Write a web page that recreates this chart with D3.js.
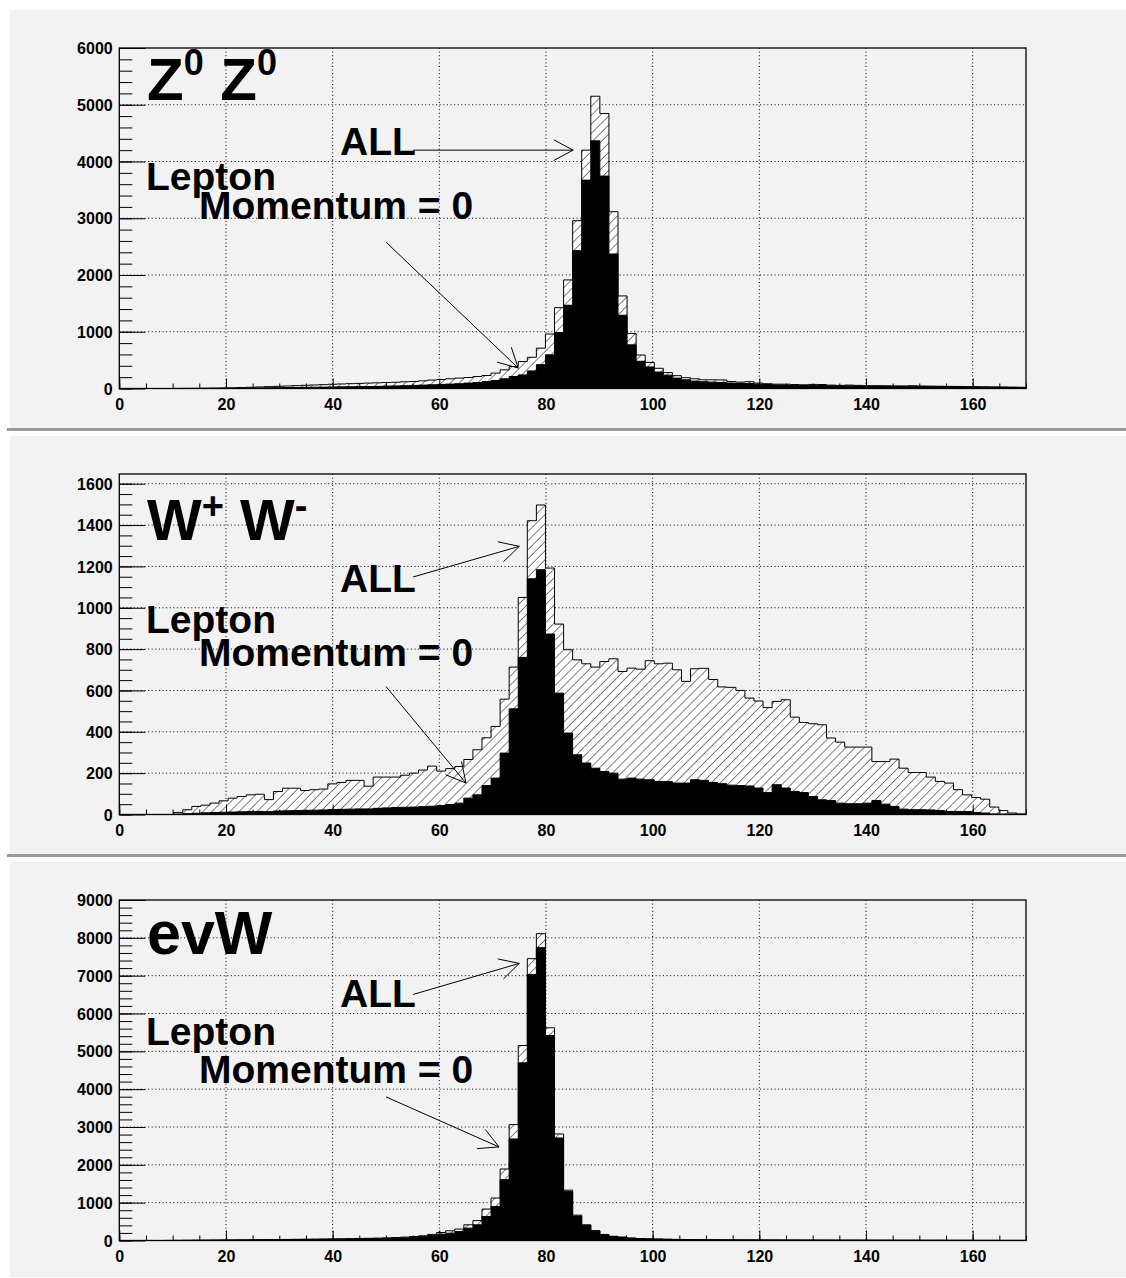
<!DOCTYPE html>
<html>
<head>
<meta charset="utf-8">
<script src="https://cdn.jsdelivr.net/npm/d3@7"></script>
<style>
body { margin: 0; background: #fff; }
text { font-family: "Liberation Sans", Arial, Helvetica, sans-serif; font-weight: bold; fill: #000; }
</style>
</head>
<body>
<script>
var width = 1126, height = 1278;
var binWidth = 1.7, xMax = 170;

var xTicks = [0, 20, 40, 60, 80, 100, 120, 140, 160];

// Z0 Z0 : all events / lepton momentum = 0
var zzAll = [0, 0, 0, 0, 0, 0, 1, 2, 3, 4,
  6, 8, 12, 16, 22, 27, 33, 38, 44, 50,
  56, 62, 68, 75, 80, 85, 90, 95, 100, 105,
  110, 118, 123, 135, 148, 158, 171, 183, 194, 211,
  229, 271, 329, 387, 475, 550, 711, 960, 1425, 1913,
  2957, 4200, 5150, 4846, 3115, 1631, 968, 590, 460, 356,
  280, 226, 190, 171, 153, 153, 150, 123, 112, 120,
  95, 84, 76, 76, 70, 65, 72, 70, 60, 55,
  60, 55, 50, 50, 48, 46, 45, 48, 44, 42,
  40, 38, 36, 34, 32, 30, 28, 26, 24, 22];
var zzLepton = [0, 0, 0, 0, 0, 0, 0, 1, 1, 2,
  3, 4, 5, 7, 9, 11, 13, 15, 17, 19,
  21, 23, 25, 27, 29, 31, 33, 35, 38, 42,
  46, 50, 55, 60, 66, 72, 78, 84, 95, 106,
  123, 141, 171, 211, 240, 310, 420, 593, 985, 1467,
  2429, 3672, 4364, 3743, 2370, 1291, 769, 480, 380, 290,
  235, 183, 153, 130, 118, 112, 106, 95, 89, 89,
  76, 70, 62, 60, 57, 54, 55, 52, 48, 45,
  46, 43, 40, 39, 38, 37, 36, 37, 35, 33,
  32, 30, 29, 27, 26, 24, 22, 21, 19, 17];
var zzYTicks = [0, 1000, 2000, 3000, 4000, 5000, 6000];

// W+ W-
var wwAll = [0, 0, 0, 0, 0, 0, 10, 23, 39, 45,
  55, 66, 79, 87, 95, 98, 72, 111, 127, 127,
  116, 120, 123, 148, 155, 165, 165, 137, 181, 181,
  181, 190, 200, 215, 234, 210, 222, 232, 266, 313,
  371, 426, 558, 713, 1050, 1421, 1497, 1192, 921, 797,
  748, 729, 713, 740, 753, 692, 708, 703, 744, 729,
  732, 700, 644, 705, 707, 653, 617, 615, 600, 563,
  549, 517, 547, 555, 471, 445, 439, 434, 370, 350,
  326, 326, 326, 256, 256, 268, 224, 203, 203, 181,
  160, 152, 120, 95, 82, 74, 36, 19, 7, 3];
var wwLepton = [0, 0, 0, 0, 0, 0, 2, 4, 6, 8,
  10, 11, 12, 13, 14, 15, 14, 17, 18, 19,
  20, 21, 22, 24, 25, 26, 27, 27, 30, 32,
  34, 35, 36, 38, 40, 43, 48, 55, 79, 95,
  140, 176, 297, 511, 760, 1140, 1184, 873, 587, 394,
  289, 249, 224, 208, 200, 171, 176, 171, 168, 160,
  160, 152, 152, 168, 165, 155, 149, 142, 140, 138,
  128, 106, 144, 128, 111, 106, 87, 71, 68, 55,
  52, 52, 55, 68, 50, 39, 26, 23, 23, 22,
  19, 15, 15, 14, 10, 7, 3, 2, 1, 0];
var wwYTicks = [0, 200, 400, 600, 800, 1000, 1200, 1400, 1600];

// e nu W
var evAll = [0, 0, 0, 0, 0, 2, 3, 5, 7, 9,
  11, 13, 15, 17, 19, 21, 23, 25, 28, 31,
  34, 37, 40, 43, 46, 50, 54, 58, 63, 70,
  78, 90, 105, 125, 160, 212, 257, 301, 415, 525,
  831, 1122, 1890, 3063, 5154, 7449, 8110, 5622, 2816, 1330,
  670, 415, 262, 160, 112, 90, 65, 52, 44, 38,
  33, 29, 26, 23, 21, 19, 18, 17, 16, 15,
  14, 13, 13, 12, 12, 11, 11, 10, 10, 9,
  9, 9, 8, 8, 8, 7, 7, 7, 6, 6,
  6, 5, 5, 5, 4, 4, 4, 3, 3, 3];
var evLepton = [0, 0, 0, 0, 0, 1, 2, 4, 5, 7,
  8, 10, 11, 13, 14, 16, 17, 19, 21, 23,
  26, 28, 30, 32, 35, 38, 41, 44, 48, 53,
  60, 70, 82, 100, 128, 168, 194, 238, 327, 415,
  635, 900, 1607, 2684, 4695, 7033, 7740, 5418, 2710, 1297,
  645, 400, 247, 150, 104, 84, 60, 48, 40, 35,
  30, 27, 24, 21, 19, 18, 17, 16, 15, 14,
  13, 12, 12, 11, 11, 10, 10, 9, 9, 8,
  8, 8, 7, 7, 7, 6, 6, 6, 5, 5,
  5, 4, 4, 4, 3, 3, 3, 2, 2, 2];
var evYTicks = [0, 1000, 2000, 3000, 4000, 5000, 6000, 7000, 8000, 9000];

var panels = [
  { all: zzAll, lep: zzLepton, yTicks: zzYTicks, yMax: 6000, minor: 200, padTop: 10,
    title: ['Z', '0', ' Z', '0'], titleSize: 60, supSize: 36, supRaise: 25,
    titleY: 90, allY: 145, lepY: 180, momY: 209,
    allArrow: [[55.1, 4200], [85.1, 4200]], lepArrow: [[50, 2580], [74.8, 360]] },
  { all: wwAll, lep: wwLepton, yTicks: wwYTicks, yMax: 1647, minor: 50, padTop: 436,
    title: ['W', '+', ' W', '-'], titleSize: 58, supSize: 38, supRaise: 21,
    titleY: 104, allY: 155.7, lepY: 197.3, momY: 230,
    allArrow: [[55.1, 1149], [75.0, 1297]], lepArrow: [[50, 619], [65.0, 152]] },
  { all: evAll, lep: evLepton, yTicks: evYTicks, yMax: 9000, minor: 200, padTop: 862,
    title: ['evW'], titleSize: 61,
    titleY: 92, allY: 144.7, lepY: 183, momY: 220.7,
    allArrow: [[55.1, 6504], [75.0, 7324]], lepArrow: [[50, 3796], [71.2, 2472]] }
];

var svg = d3.select('body').append('svg')
  .attr('width', width)
  .attr('height', height);

svg.append('rect').attr('width', width).attr('height', height).attr('fill', '#fff');

var defs = svg.append('defs');
defs.append('pattern')
  .attr('id', 'hatch')
  .attr('patternUnits', 'userSpaceOnUse')
  .attr('width', 6.4).attr('height', 6.4)
  .attr('patternTransform', 'rotate(45)')
  .append('line')
  .attr('x1', 0).attr('y1', 0).attr('x2', 0).attr('y2', 6.4)
  .attr('stroke', '#000').attr('stroke-width', 1);

var frameLeft = 119.3, frameRight = 1026, frameH = 340.5;

var drawArrow = function (g, p0, p1) {
  var ang = Math.atan2(p1[1] - p0[1], p1[0] - p0[0]);
  var len = 22, half = 28 * Math.PI / 180;
  g.append('line')
    .attr('x1', p0[0]).attr('y1', p0[1]).attr('x2', p1[0]).attr('y2', p1[1])
    .attr('stroke', '#000').attr('stroke-width', 1);
  [-half, half].forEach(function (a) {
    g.append('line')
      .attr('x1', p1[0]).attr('y1', p1[1])
      .attr('x2', p1[0] - len * Math.cos(ang + a))
      .attr('y2', p1[1] - len * Math.sin(ang + a))
      .attr('stroke', '#000').attr('stroke-width', 1);
  });
}

panels.forEach(function (p, k) {
  var padH = k === 2 ? 415 : 418;
  var frameTop = p.padTop + 38;

  //pad background and bevel
  svg.append('rect')
    .attr('x', 10).attr('y', p.padTop)
    .attr('width', width - 10).attr('height', padH)
    .attr('fill', '#f2f2f2');
  if (k < 2) {
    svg.append('rect')
      .attr('x', 7).attr('y', p.padTop + padH)
      .attr('width', width - 7).attr('height', 3)
      .attr('fill', '#9a9a9a');
  }

  var g = svg.append('g');

  var xScale = d3.scaleLinear().domain([0, xMax]).range([frameLeft, frameRight]);
  var yScale = d3.scaleLinear().domain([0, p.yMax]).range([frameTop + frameH, frameTop]);

  //grid
  g.selectAll('.vgrid')
    .data(xTicks.filter(function (d) { return d > 0; }))
    .enter().append('line')
    .attr('x1', function (d) { return xScale(d); })
    .attr('x2', function (d) { return xScale(d); })
    .attr('y1', frameTop).attr('y2', frameTop + frameH)
    .attr('stroke', '#000').attr('stroke-width', 1)
    .attr('stroke-dasharray', '1,2.6');
  g.selectAll('.hgrid')
    .data(p.yTicks.filter(function (d) { return d > 0 && d < p.yMax; }))
    .enter().append('line')
    .attr('x1', frameLeft).attr('x2', frameRight)
    .attr('y1', function (d) { return yScale(d); })
    .attr('y2', function (d) { return yScale(d); })
    .attr('stroke', '#000').attr('stroke-width', 1)
    .attr('stroke-dasharray', '1,2.6');

  //histograms
  var toSteps = function (arr) {
    var pts = arr.map(function (v, i) { return { x: i * binWidth, v: v }; });
    pts.push({ x: xMax, v: arr[arr.length - 1] });
    return pts;
  };
  var area = d3.area()
    .curve(d3.curveStepAfter)
    .x(function (d) { return xScale(d.x); })
    .y0(yScale(0))
    .y1(function (d) { return yScale(d.v); });

  g.append('path').datum(toSteps(p.all)).attr('d', area).attr('fill', '#fff');
  g.append('path').datum(toSteps(p.all)).attr('d', area)
    .attr('fill', 'url(#hatch)')
    .attr('stroke', '#000').attr('stroke-width', 1);
  g.append('path').datum(toSteps(p.lep)).attr('d', area)
    .attr('fill', '#000')
    .attr('stroke', '#000').attr('stroke-width', 1);

  //frame
  g.append('rect')
    .attr('x', frameLeft).attr('y', frameTop)
    .attr('width', frameRight - frameLeft).attr('height', frameH)
    .attr('fill', 'none').attr('stroke', '#000').attr('stroke-width', 1.3);

  //axes
  var minorY = d3.range(0, p.yMax + 1, p.minor);
  g.append('g')
    .attr('transform', 'translate(' + frameLeft + ',0)')
    .call(d3.axisLeft(yScale).tickValues(minorY).tickSize(-13).tickFormat(''))
    .call(function (a) { a.select('.domain').remove(); });
  g.append('g')
    .attr('transform', 'translate(' + frameLeft + ',0)')
    .call(d3.axisLeft(yScale).tickValues(p.yTicks).tickSize(-26).tickPadding(6.6).tickFormat(d3.format('d')))
    .call(function (a) {
      a.select('.domain').remove();
      a.selectAll('text').style('font-size', '16px').attr('dy', '0.35em')
        .style('font-family', '"Liberation Sans", Arial, sans-serif').style('font-weight', 'bold');
    });

  g.append('g')
    .attr('transform', 'translate(0,' + (frameTop + frameH) + ')')
    .call(d3.axisBottom(xScale).tickValues(d3.range(0, xMax + 1, 5)).tickSize(-5).tickFormat(''))
    .call(function (a) { a.select('.domain').remove(); });
  g.append('g')
    .attr('transform', 'translate(0,' + (frameTop + frameH) + ')')
    .call(d3.axisBottom(xScale).tickValues(xTicks).tickSize(-10).tickPadding(9.8).tickFormat(d3.format('d')))
    .call(function (a) {
      a.select('.domain').remove();
      a.selectAll('text').style('font-size', '16px')
        .style('font-family', '"Liberation Sans", Arial, sans-serif').style('font-weight', 'bold');
    });
  g.selectAll('.tick line').attr('stroke', '#000').attr('stroke-width', 1);

  //labels
  var t = g.append('text')
    .attr('x', 147).attr('y', p.padTop + p.titleY)
    .style('font-size', p.titleSize + 'px');
  if (p.title.length === 1) {
    t.text(p.title[0]);
  } else {
    t.append('tspan').text(p.title[0]);
    t.append('tspan').style('font-size', p.supSize + 'px').attr('dy', -p.supRaise).text(p.title[1]);
    t.append('tspan').attr('dy', p.supRaise).attr('xml:space', 'preserve').text(p.title[2]);
    t.append('tspan').style('font-size', p.supSize + 'px').attr('dy', -p.supRaise).text(p.title[3]);
  }

  g.append('text').attr('x', 340).attr('y', p.padTop + p.allY)
    .style('font-size', '39px').text('ALL');
  g.append('text').attr('x', 146).attr('y', p.padTop + p.lepY)
    .style('font-size', '39px').text('Lepton');
  g.append('text').attr('x', 199).attr('y', p.padTop + p.momY)
    .style('font-size', '39px').text('Momentum = 0');

  var pt = function (d) { return [xScale(d[0]), yScale(d[1])]; };
  drawArrow(g, pt(p.allArrow[0]), pt(p.allArrow[1]));
  drawArrow(g, pt(p.lepArrow[0]), pt(p.lepArrow[1]));
});
</script>
</body>
</html>
